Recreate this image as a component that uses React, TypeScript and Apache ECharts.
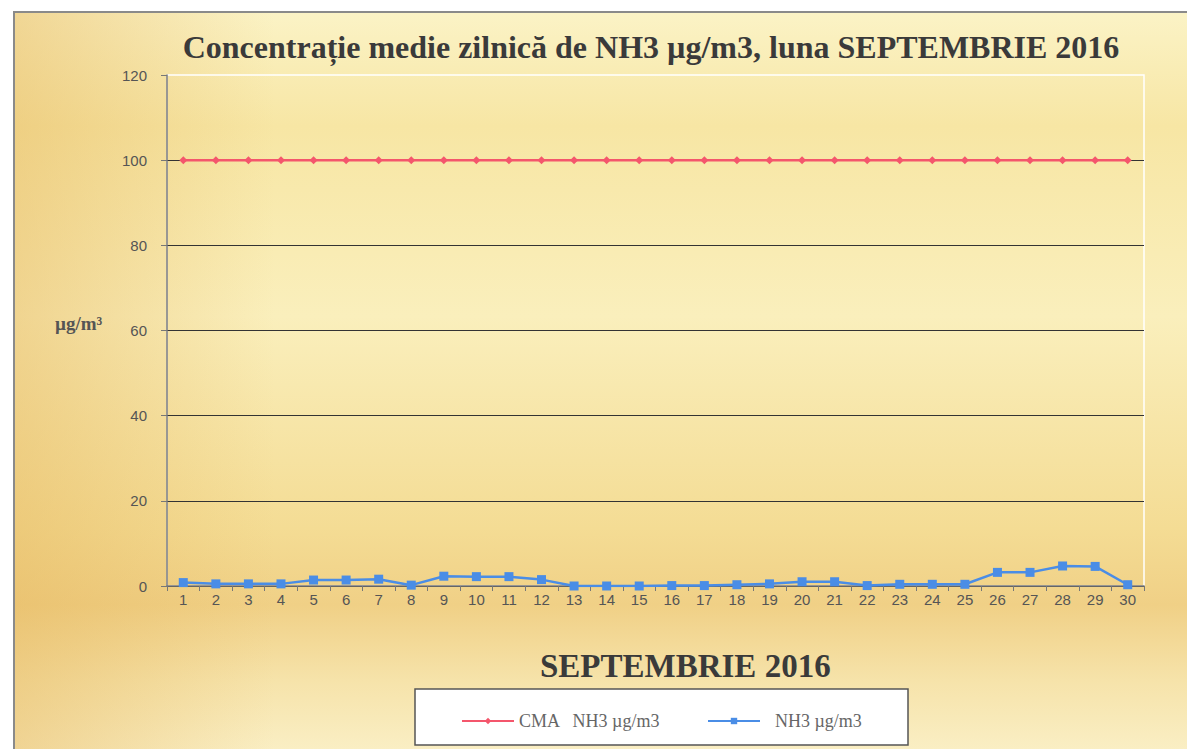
import React, { useEffect, useRef } from "react";
import * as echarts from "echarts";

const days = ["1","2","3","4","5","6","7","8","9","10","11","12","13","14","15","16","17","18","19","20","21","22","23","24","25","26","27","28","29","30"];
const cmaValues = [100,100,100,100,100,100,100,100,100,100,100,100,100,100,100,100,100,100,100,100,100,100,100,100,100,100,100,100,100,100];
const nh3Values = [0.8,0.5,0.5,0.5,1.4,1.4,1.6,0.2,2.3,2.2,2.2,1.5,0,0,0,0.1,0.1,0.3,0.5,1.0,1.0,0.1,0.4,0.4,0.4,3.2,3.2,4.7,4.6,0.3];
const yTicks = { min: 0, max: 120, interval: 20 };

const titleText = "Concentrație medie zilnică de NH3 µg/m3, luna SEPTEMBRIE 2016";
const xName = "SEPTEMBRIE 2016";
const yName = "µg/m³";
const cmaName = "CMA   NH3 µg/m3";
const nh3Name = "NH3 µg/m3";

export default function App() {
  const ref = useRef<HTMLDivElement>(null);
  useEffect(() => {
    const chart = echarts.init(ref.current!, null, { renderer: "svg" });
    const serif = "Liberation Serif";
    const sans = "Liberation Sans";
    chart.setOption({
      animation: false,
      backgroundColor: "#ffffff",
      title: {
        text: titleText,
        left: 646,
        textAlign: "center",
        top: 26,
        textStyle: { fontFamily: serif, fontWeight: "bold", fontSize: 32, color: "#3a3a3a" },
      },
      graphic: [
        {
          type: "rect",
          z: -10,
          silent: true,
          shape: { x: 14, y: 12, width: 1190, height: 760 },
          style: {
            fill: new echarts.graphic.LinearGradient(0, 0, 0, 1, [
              { offset: 0, color: "#fbf3c6" },
              { offset: 0.15, color: "#f7e6a4" },
              { offset: 0.4, color: "#faefbc" },
              { offset: 0.68, color: "#f4dc94" },
              { offset: 0.78, color: "#f0d086" },
              { offset: 0.88, color: "#f6e3aa" },
              { offset: 1, color: "#fbf2cc" },
            ]),
            stroke: "#8a8a8a",
            lineWidth: 2,
          },
        },
        {
          type: "rect",
          z: -9,
          silent: true,
          shape: { x: 15, y: 13, width: 260, height: 740 },
          style: {
            fill: new echarts.graphic.LinearGradient(0, 0, 1, 0, [
              { offset: 0, color: "rgba(228,180,90,0.45)" },
              { offset: 1, color: "rgba(228,180,90,0)" },
            ]),
          },
        },
        {
          type: "text",
          left: 55,
          top: 314,
          style: { text: yName, font: `bold 19px ${serif}`, fill: "#555555" },
        },
        {
          type: "text",
          left: 540,
          top: 649,
          style: { text: xName, font: `bold 33px ${serif}`, fill: "#3a3a3a" },
        },
        {
          type: "rect",
          z: 5,
          shape: { x: 415, y: 689, width: 493, height: 56 },
          style: { fill: "#ffffff", stroke: "#555555", lineWidth: 1.5 },
        },
      ],
      legend: [
        {
          z: 10,
          left: 456,
          top: 707,
          data: [cmaName],
          itemWidth: 52,
          itemHeight: 8,
          textStyle: { fontFamily: serif, fontSize: 18, color: "#666666" },
        },
        {
          z: 10,
          left: 702,
          top: 707,
          data: [nh3Name],
          itemWidth: 52,
          itemHeight: 8,
          textStyle: { fontFamily: serif, fontSize: 18, color: "#666666", padding: [0, 0, 0, 10] },
        },
      ],
      grid: {
        left: 167,
        right: 43,
        top: 75,
        bottom: 163,
        show: true,
        backgroundColor: "transparent",
        borderColor: "#ffffff",
        borderWidth: 1.5,
      },
      xAxis: {
        type: "category",
        data: days,
        boundaryGap: true,
        axisLine: { lineStyle: { color: "#777777", width: 1.5 } },
        axisTick: { show: true, length: 5, lineStyle: { color: "#777777" } },
        axisLabel: { fontFamily: sans, fontSize: 15, color: "#555555", margin: 6, interval: 0 },
        splitLine: { show: false },
      },
      yAxis: {
        type: "value",
        min: yTicks.min,
        max: yTicks.max,
        interval: yTicks.interval,
        axisLine: { show: true, lineStyle: { color: "#777777", width: 1.5 } },
        axisTick: { show: true, length: 6, lineStyle: { color: "#777777" } },
        axisLabel: { fontFamily: sans, fontSize: 15, color: "#555555", margin: 20 },
        splitLine: { show: true, showMaxLine: false, lineStyle: { color: "#333333", width: 1 } },
      },
      series: [
        {
          name: cmaName,
          type: "line",
          data: cmaValues,
          color: "#f4566c",
          symbol: "diamond",
          symbolSize: 8,
          lineStyle: { width: 2.5, color: "#f4566c" },
          itemStyle: { color: "#f4566c" },
          z: 3,
        },
        {
          name: nh3Name,
          type: "line",
          data: nh3Values,
          color: "#4a8de6",
          symbol: "rect",
          symbolSize: 9,
          lineStyle: { width: 2.5, color: "#4a8de6" },
          itemStyle: { color: "#4a8de6" },
          z: 4,
        },
      ],
    });
    return () => chart.dispose();
  }, []);
  return (
    <div
      ref={ref}
      style={{ position: "fixed", left: 0, top: 0, width: 1187, height: 749 }}
    />
  );
}
